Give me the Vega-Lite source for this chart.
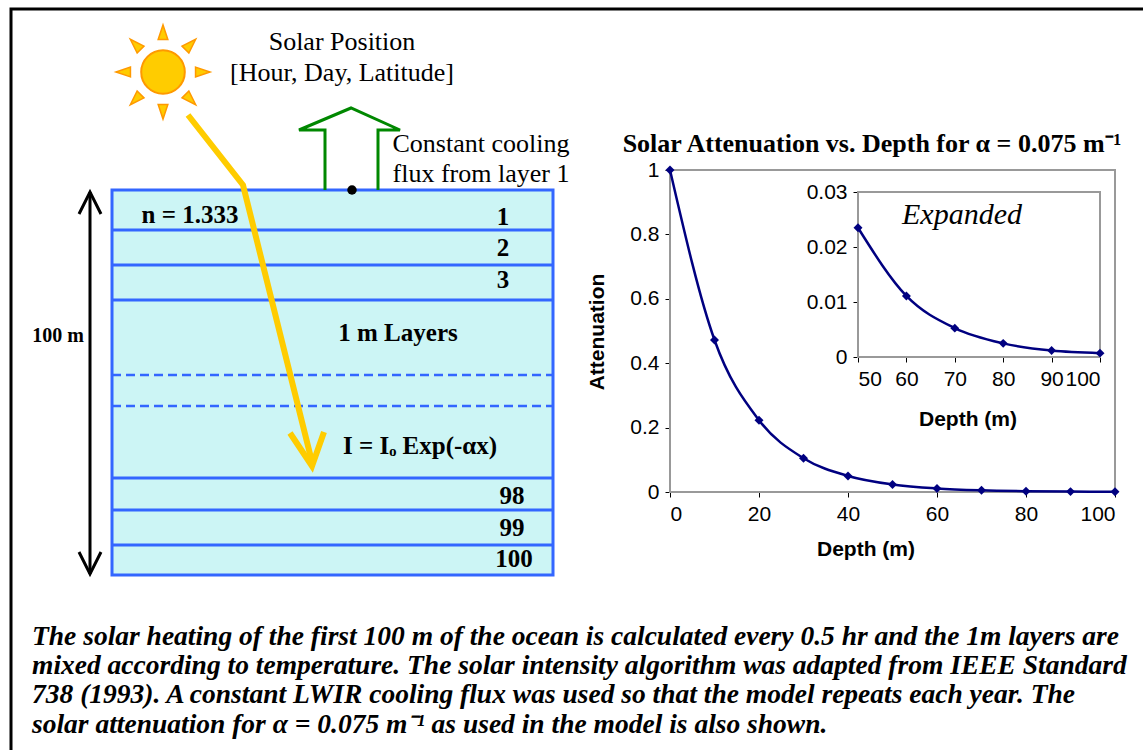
{
  "$schema": "https://vega.github.io/schema/vega-lite/v6.json",
  "width": 1143,
  "height": 750,
  "autosize": {"type": "none"},
  "padding": 0,
  "background": "white",
  "config": {"view": {"stroke": null}},
  "datasets": {
    "curve": [
      {"depth": 0, "att": 1},
      {"depth": 10, "att": 0.472},
      {"depth": 20, "att": 0.223},
      {"depth": 30, "att": 0.105},
      {"depth": 40, "att": 0.0498},
      {"depth": 50, "att": 0.0235},
      {"depth": 60, "att": 0.0111},
      {"depth": 70, "att": 0.00525},
      {"depth": 80, "att": 0.00248},
      {"depth": 90, "att": 0.00117},
      {"depth": 100, "att": 0.0007}
    ]
  },
  "layer": [
    {
      "encoding": {
        "x": {"type": "quantitative", "scale": {"domain": [0, 1143], "range": [0, 1143]}, "axis": null},
        "y": {"type": "quantitative", "scale": {"domain": [0, 750], "range": [0, 750]}, "axis": null}
      },
      "layer": [
        {
          "data": {"values": [{"x": 11, "x2": 1160, "y": 9, "y2": 770}]},
          "mark": {"type": "rect", "fill": null, "stroke": "black", "strokeWidth": 3},
          "encoding": {"x": {"field": "x", "type": "quantitative"}, "x2": {"field": "x2"}, "y": {"field": "y", "type": "quantitative"}, "y2": {"field": "y2"}}
        },
        {
          "data": {"values": [{"x": 112, "x2": 553, "y": 190, "y2": 575}]},
          "mark": {"type": "rect", "fill": "#CCF5F5", "stroke": "#3366FF", "strokeWidth": 3},
          "encoding": {"x": {"field": "x", "type": "quantitative"}, "x2": {"field": "x2"}, "y": {"field": "y", "type": "quantitative"}, "y2": {"field": "y2"}}
        },
        {
          "data": {"values": [{"y": 230}, {"y": 265}, {"y": 300}, {"y": 478}, {"y": 510}, {"y": 545}]},
          "mark": {"type": "rule", "color": "#3366FF", "strokeWidth": 3},
          "encoding": {"x": {"datum": 112, "type": "quantitative"}, "x2": {"datum": 553}, "y": {"field": "y", "type": "quantitative"}}
        },
        {
          "data": {"values": [{"y": 375}, {"y": 406}]},
          "mark": {"type": "rule", "color": "#3366FF", "strokeWidth": 2.5, "strokeDash": [9, 5]},
          "encoding": {"x": {"datum": 112, "type": "quantitative"}, "x2": {"datum": 553}, "y": {"field": "y", "type": "quantitative"}}
        },
        {
          "data": {"values": [
            {"g": "s", "o": 0, "x": 90, "y": 192}, {"g": "s", "o": 1, "x": 90, "y": 574},
            {"g": "t", "o": 0, "x": 79, "y": 214}, {"g": "t", "o": 1, "x": 90, "y": 192}, {"g": "t", "o": 2, "x": 101, "y": 214},
            {"g": "b", "o": 0, "x": 79, "y": 552}, {"g": "b", "o": 1, "x": 90, "y": 574}, {"g": "b", "o": 2, "x": 101, "y": 552}
          ]},
          "mark": {"type": "line", "color": "black", "strokeWidth": 3},
          "encoding": {"x": {"field": "x", "type": "quantitative"}, "y": {"field": "y", "type": "quantitative"}, "detail": {"field": "g"}, "order": {"field": "o"}}
        },
        {
          "data": {"values": [
            {"g": "r", "o": 0, "x": 188, "y": 115}, {"g": "r", "o": 1, "x": 243, "y": 185}, {"g": "r", "o": 2, "x": 312, "y": 462},
            {"g": "h", "o": 0, "x": 290, "y": 433}, {"g": "h", "o": 1, "x": 312, "y": 466}, {"g": "h", "o": 2, "x": 324, "y": 432}
          ]},
          "mark": {"type": "line", "color": "#FFCC00", "strokeWidth": 6},
          "encoding": {"x": {"field": "x", "type": "quantitative"}, "y": {"field": "y", "type": "quantitative"}, "detail": {"field": "g"}, "order": {"field": "o"}}
        },
        {
          "data": {"values": [
            {"o": 0, "x": 325, "y": 190}, {"o": 1, "x": 325, "y": 130}, {"o": 2, "x": 299, "y": 130},
            {"o": 3, "x": 351, "y": 108}, {"o": 4, "x": 400, "y": 130}, {"o": 5, "x": 378, "y": 130}, {"o": 6, "x": 378, "y": 190}
          ]},
          "mark": {"type": "line", "color": "#008800", "strokeWidth": 3, "strokeJoin": "miter"},
          "encoding": {"x": {"field": "x", "type": "quantitative"}, "y": {"field": "y", "type": "quantitative"}, "order": {"field": "o"}}
        },
        {
          "data": {"values": [{"x": 352, "y": 190}]},
          "mark": {"type": "point", "filled": true, "color": "black", "size": 90, "opacity": 1},
          "encoding": {"x": {"field": "x", "type": "quantitative"}, "y": {"field": "y", "type": "quantitative"}}
        },
        {
          "data": {"values": [
            {"x": 163, "y": 33, "a": 0}, {"x": 190, "y": 45, "a": 45}, {"x": 202, "y": 72, "a": 90}, {"x": 190, "y": 99, "a": 135},
            {"x": 163, "y": 111, "a": 180}, {"x": 136, "y": 99, "a": 225}, {"x": 124, "y": 72, "a": 270}, {"x": 136, "y": 45, "a": 315}
          ]},
          "mark": {"type": "point", "shape": "M-0.6,0.8L0,-1L0.6,0.8Z", "filled": true, "fill": "#FFCC00", "stroke": "#FF9900", "strokeWidth": 1.5, "size": 260, "opacity": 1},
          "encoding": {"x": {"field": "x", "type": "quantitative"}, "y": {"field": "y", "type": "quantitative"}, "angle": {"field": "a", "type": "quantitative", "scale": null}}
        },
        {
          "data": {"values": [{"x": 163, "y": 72}]},
          "mark": {"type": "point", "shape": "circle", "filled": true, "fill": "#FFCC00", "stroke": "#FF9900", "strokeWidth": 2, "size": 1900, "opacity": 1},
          "encoding": {"x": {"field": "x", "type": "quantitative"}, "y": {"field": "y", "type": "quantitative"}}
        },
        {
          "data": {"values": [
            {"x": 342, "y": 42, "t": "Solar Position"},
            {"x": 342, "y": 73, "t": "[Hour, Day, Latitude]"},
            {"x": 481, "y": 144, "t": "Constant cooling"},
            {"x": 481, "y": 174, "t": "flux from layer 1"}
          ]},
          "mark": {"type": "text", "font": "Liberation Serif", "fontSize": 26, "color": "black"},
          "encoding": {"x": {"field": "x", "type": "quantitative"}, "y": {"field": "y", "type": "quantitative"}, "text": {"field": "t"}}
        },
        {
          "data": {"values": [
            {"x": 190, "y": 215, "t": "n = 1.333"},
            {"x": 503, "y": 217, "t": "1"},
            {"x": 503, "y": 248, "t": "2"},
            {"x": 503, "y": 280, "t": "3"},
            {"x": 398, "y": 333, "t": "1 m Layers"},
            {"x": 420, "y": 446, "t": "I = Iₒ Exp(-αx)"},
            {"x": 512, "y": 496, "t": "98"},
            {"x": 512, "y": 528, "t": "99"},
            {"x": 514, "y": 559, "t": "100"}
          ]},
          "mark": {"type": "text", "font": "Liberation Serif", "fontWeight": "bold", "fontSize": 25, "color": "black"},
          "encoding": {"x": {"field": "x", "type": "quantitative"}, "y": {"field": "y", "type": "quantitative"}, "text": {"field": "t"}}
        },
        {
          "data": {"values": [{"x": 58, "y": 336, "t": "100 m"}]},
          "mark": {"type": "text", "font": "Liberation Serif", "fontWeight": "bold", "fontSize": 20, "color": "black"},
          "encoding": {"x": {"field": "x", "type": "quantitative"}, "y": {"field": "y", "type": "quantitative"}, "text": {"field": "t"}}
        },
        {
          "data": {"values": [{"x": 670, "x2": 1115, "y": 170, "y2": 492}]},
          "mark": {"type": "rect", "fill": null, "stroke": "#999999", "strokeWidth": 2},
          "encoding": {"x": {"field": "x", "type": "quantitative"}, "x2": {"field": "x2"}, "y": {"field": "y", "type": "quantitative"}, "y2": {"field": "y2"}}
        },
        {
          "data": {"values": [{"x": 858, "x2": 1100, "y": 192, "y2": 357}]},
          "mark": {"type": "rect", "fill": "white", "stroke": "#999999", "strokeWidth": 2},
          "encoding": {"x": {"field": "x", "type": "quantitative"}, "x2": {"field": "x2"}, "y": {"field": "y", "type": "quantitative"}, "y2": {"field": "y2"}}
        },
        {
          "data": {"values": [{"x": 872, "y": 144, "t": "Solar Attenuation vs. Depth for α = 0.075 m⁻¹"}]},
          "mark": {"type": "text", "font": "Liberation Serif", "fontWeight": "bold", "fontSize": 26, "color": "black"},
          "encoding": {"x": {"field": "x", "type": "quantitative"}, "y": {"field": "y", "type": "quantitative"}, "text": {"field": "t"}}
        },
        {
          "data": {"values": [{"x": 962, "y": 215, "t": "Expanded"}]},
          "mark": {"type": "text", "font": "Liberation Serif", "fontStyle": "italic", "fontSize": 30, "color": "black"},
          "encoding": {"x": {"field": "x", "type": "quantitative"}, "y": {"field": "y", "type": "quantitative"}, "text": {"field": "t"}}
        },
        {
          "data": {"values": [{"x": 866, "y": 550, "t": "Depth (m)", "a": 0}, {"x": 968, "y": 420, "t": "Depth (m)", "a": 0}, {"x": 598, "y": 332, "t": "Attenuation", "a": 270}]},
          "mark": {"type": "text", "font": "Liberation Sans", "fontWeight": "bold", "fontSize": 21, "color": "black"},
          "encoding": {"x": {"field": "x", "type": "quantitative"}, "y": {"field": "y", "type": "quantitative"}, "text": {"field": "t"}, "angle": {"field": "a", "type": "quantitative", "scale": null}}
        },
        {
          "data": {"values": [
            {"y": 637, "t": "The solar heating of the first 100 m of the ocean is calculated every 0.5 hr and the 1m layers are"},
            {"y": 666, "t": "mixed according to temperature.  The solar intensity algorithm was adapted from IEEE Standard"},
            {"y": 695, "t": "738 (1993).  A constant LWIR cooling flux was used so that the model repeats each year.  The"},
            {"y": 725, "t": "solar attenuation for α = 0.075 m⁻¹ as used in the model is also shown."}
          ]},
          "mark": {"type": "text", "align": "left", "font": "Liberation Serif", "fontWeight": "bold", "fontStyle": "italic", "fontSize": 27.5, "color": "black"},
          "encoding": {"x": {"datum": 32, "type": "quantitative"}, "y": {"field": "y", "type": "quantitative"}, "text": {"field": "t"}}
        }
      ]
    },
    {
      "data": {"name": "curve"},
      "encoding": {
        "x": {"field": "depth", "type": "quantitative", "scale": {"domain": [0, 100], "range": [670, 1115]},
          "axis": {"orient": "bottom", "offset": -258, "domain": false, "title": null, "values": [0, 20, 40, 60, 80, 100], "format": "d", "labelOverlap": false, "tickColor": "black", "tickSize": 5, "labelFont": "Liberation Sans", "labelFontSize": 21, "labelColor": "black", "grid": false, "labelPadding": 6}},
        "y": {"field": "att", "type": "quantitative", "scale": {"domain": [0, 1], "range": [492, 170]},
          "axis": {"orient": "left", "offset": -670, "domain": false, "title": null, "values": [0, 0.2, 0.4, 0.6, 0.8, 1], "format": "~g", "tickColor": "black", "tickSize": 5, "labelFont": "Liberation Sans", "labelFontSize": 21, "labelColor": "black", "grid": false, "labelPadding": 6}}
      },
      "layer": [
        {"mark": {"type": "line", "interpolate": "monotone", "color": "#000080", "strokeWidth": 2.5}},
        {"mark": {"type": "point", "shape": "diamond", "filled": true, "color": "#000080", "size": 80, "opacity": 1}}
      ]
    },
    {
      "data": {"name": "curve"},
      "transform": [{"filter": "datum.depth >= 50"}],
      "encoding": {
        "x": {"field": "depth", "type": "quantitative", "scale": {"domain": [50, 100], "range": [858, 1100]},
          "axis": {"orient": "bottom", "offset": -393, "domain": false, "title": null, "values": [50, 60, 70, 80, 90, 100], "format": "d", "labelOverlap": false, "tickColor": "black", "tickSize": 5, "labelFont": "Liberation Sans", "labelFontSize": 21, "labelColor": "black", "grid": false, "labelPadding": 6}},
        "y": {"field": "att", "type": "quantitative", "scale": {"domain": [0, 0.03], "range": [357, 192]},
          "axis": {"orient": "left", "offset": -858, "domain": false, "title": null, "values": [0, 0.01, 0.02, 0.03], "format": "~g", "tickColor": "black", "tickSize": 5, "labelFont": "Liberation Sans", "labelFontSize": 21, "labelColor": "black", "grid": false, "labelPadding": 6}}
      },
      "layer": [
        {"mark": {"type": "line", "interpolate": "monotone", "color": "#000080", "strokeWidth": 2.5}},
        {"mark": {"type": "point", "shape": "diamond", "filled": true, "color": "#000080", "size": 80, "opacity": 1}}
      ]
    }
  ],
  "resolve": {"scale": {"x": "independent", "y": "independent"}, "axis": {"x": "independent", "y": "independent"}}
}
